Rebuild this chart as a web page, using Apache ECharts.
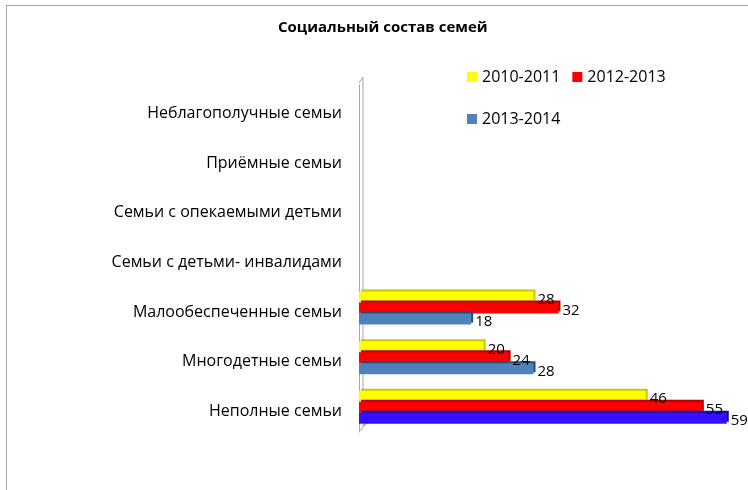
<!DOCTYPE html>
<html>
<head>
<meta charset="utf-8">
<script src="https://cdn.jsdelivr.net/npm/echarts@6/dist/echarts.min.js"></script>
<style>
  html, body { margin: 0; padding: 0; background: #fff; }
  #frame { position: absolute; left: 6px; top: 5px; width: 900px; height: 700px;
           border-left: 1px solid #a6a6a6; border-top: 1px solid #a6a6a6; }
  #chart { position: absolute; left: 0; top: 0; width: 748px; height: 490px; }
</style>
</head>
<body>
<div id="frame"></div>
<div id="chart"></div>
<script>
// категории снизу вверх (так их раскладывает ось категорий)
const categories = [
  'Неполные семьи',
  'Многодетные семьи',
  'Малообеспеченные семьи',
  'Семьи с детьми- инвалидами',
  'Семьи с опекаемыми детьми',
  'Приёмные семьи',
  'Неблагополучные семьи'
]
const seriesNames = ['2010-2011', '2012-2013', '2013-2014']
const values2010 = [46, 20, 28, null, null, null, null]
const values2012 = [55, 24, 32, null, null, null, null]
const values2013 = [59, 28, 18, null, null, null, null]

const colors = [
  ['#ffff00', '#c8c800'],
  ['#ff0000', '#b00000'],
  ['#4f81bd', '#2c4d75']
]

const chart = echarts.init(document.getElementById('chart'))
const font = '"Open Sans", "Noto Sans", sans-serif'

function makeSeries(name, values, idx) {
  return {
    name,
    type: 'bar',
    barWidth: 11,
    barGap: '0%',
    barCategoryGap: '30%',
    itemStyle: {
      color: colors[idx][0],
      shadowColor: colors[idx][1],
      shadowOffsetX: 2,
      shadowOffsetY: -2,
      shadowBlur: 0
    },
    label: {
      show: true,
      position: 'right',
      distance: 4,
      offset: [0, 3],
      color: '#000',
      fontFamily: font,
      fontSize: 15
    },
    data: values.map((v, i) => {
      // последний столбец 2013-2014 у «Неполных семей» другого цвета
      if (idx === 2 && i === 0 && v != null) {
        return { value: v, itemStyle: { color: '#3311ff', shadowColor: '#1a0a99' } }
      }
      return v
    })
  }
}

const option = {
  animation: false,
  title: {
    text: 'Социальный состав семей',
    left: 273,
    top: 15,
    textStyle: { fontFamily: font, fontSize: 15, fontWeight: 'bold', color: '#000' }
  },
  legend: [
    {
      data: ['2010-2011', '2012-2013'],
      left: 462,
      top: 64,
      itemWidth: 10,
      itemHeight: 10,
      itemGap: 12,
      icon: 'rect',
      textStyle: { fontFamily: font, fontSize: 16, color: '#000' }
    },
    {
      data: ['2013-2014'],
      left: 462,
      top: 106,
      itemWidth: 10,
      itemHeight: 10,
      icon: 'rect',
      textStyle: { fontFamily: font, fontSize: 16, color: '#000' }
    }
  ],
  // сетка 0 — столбцы, сетка 1 — подписи категорий (чуть ниже, как в оригинале)
  grid: [
    { left: 359, right: 15, top: 85, bottom: 58 },
    { left: 359, right: 15, top: 89, bottom: 54 }
  ],
  xAxis: [
    {
      type: 'value', gridIndex: 0, min: 0, max: 60,
      axisLine: { show: false }, axisTick: { show: false },
      axisLabel: { show: false }, splitLine: { show: false }
    },
    {
      type: 'value', gridIndex: 1, min: 0, max: 60, show: false
    }
  ],
  yAxis: [
    {
      type: 'category', gridIndex: 0, data: categories,
      axisLine: { show: true, lineStyle: { color: '#a6a6a6', width: 1 } },
      axisTick: { show: false },
      axisLabel: { show: false }
    },
    {
      type: 'category', gridIndex: 1, data: categories,
      axisLine: { show: false },
      axisTick: { show: false },
      axisLabel: { color: '#000', fontFamily: font, fontSize: 16, margin: 17 }
    }
  ],
  graphic: [
    {
      type: 'polyline',
      silent: true,
      shape: { points: [[359, 83], [363, 77], [363, 426], [367, 422]] },
      style: { fill: null, stroke: '#a6a6a6', lineWidth: 1 }
    },
    {
      type: 'line',
      silent: true,
      shape: { x1: 359, y1: 432, x2: 367, y2: 423 },
      style: { stroke: '#a6a6a6', lineWidth: 1 }
    }
  ],
  series: [
    makeSeries(seriesNames[0], values2010, 0),
    makeSeries(seriesNames[1], values2012, 1),
    makeSeries(seriesNames[2], values2013, 2)
  ]
}

chart.setOption(option)
</script>
</body>
</html>
